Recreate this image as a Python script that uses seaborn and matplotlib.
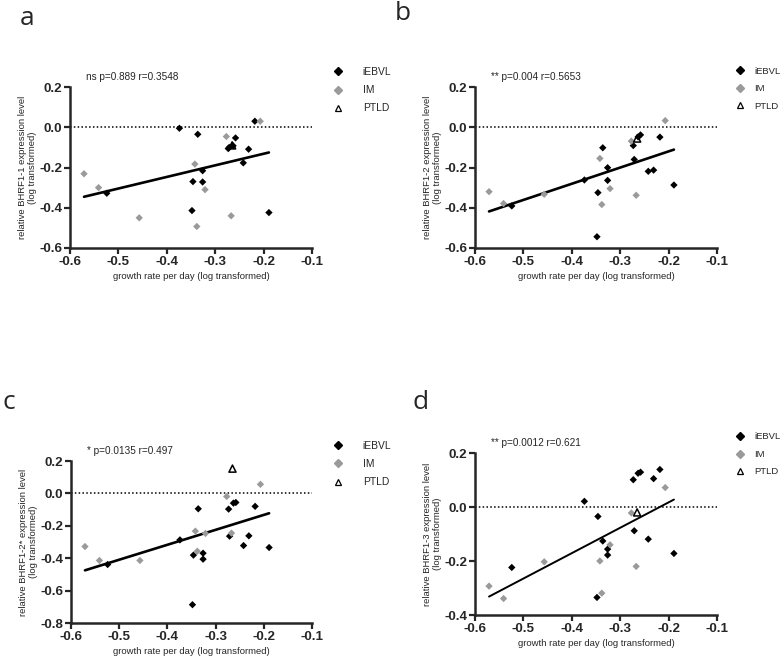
import numpy as np
import pandas as pd
import matplotlib
matplotlib.use("Agg")
import matplotlib.pyplot as plt
import seaborn as sns
from matplotlib.lines import Line2D

# ── data ───────────────────────────────────────────────────────────────────
GROUPS = ["iEBVL", "IM", "PTLD"]

x_iebvl = [-0.524, -0.374, -0.346, -0.348, -0.336, -0.326, -0.326, -0.273,
           -0.271, -0.263, -0.258, -0.242, -0.231, -0.218, -0.189]
x_im    = [-0.571, -0.541, -0.457, -0.342, -0.338, -0.321, -0.277, -0.267, -0.207]
x_ptld  = [-0.265]

# panel a – BHRF1-1
a_iebvl = [-0.328, -0.005, -0.270, -0.414, -0.035, -0.216, -0.272, -0.106,
           -0.100, -0.092, -0.053, -0.177, -0.109, 0.030, -0.424]
a_im    = [-0.231, -0.300, -0.450, -0.183, -0.493, -0.310, -0.046, -0.440, 0.030]
a_ptld  = [-0.090]

# panel b – BHRF1-2
b_iebvl = [-0.391, -0.262, -0.325, -0.544, -0.102, -0.201, -0.264, -0.091,
           -0.160, -0.048, -0.038, -0.219, -0.213, -0.049, -0.287]
b_im    = [-0.320, -0.379, -0.333, -0.155, -0.384, -0.305, -0.069, -0.338, 0.033]
b_ptld  = [-0.056]

# panel c – BHRF1-2*
c_iebvl = [-0.439, -0.287, -0.381, -0.687, -0.095, -0.369, -0.406, -0.097,
           -0.264, -0.060, -0.056, -0.322, -0.262, -0.080, -0.334]
c_im    = [-0.328, -0.414, -0.414, -0.233, -0.357, -0.247, -0.019, -0.245, 0.056]
c_ptld  = [0.153]

# panel d – BHRF1-3
d_iebvl = [-0.224, 0.021, -0.035, -0.335, -0.126, -0.156, -0.178, 0.101,
           -0.088, 0.125, 0.129, -0.119, 0.105, 0.139, -0.172]
d_im    = [-0.293, -0.339, -0.203, -0.200, -0.319, -0.140, -0.022, -0.220, 0.072]
d_ptld  = [-0.020]

letters  = ["a", "b", "c", "d"]
genes    = ["BHRF1-1", "BHRF1-2", "BHRF1-2*", "BHRF1-3"]
stats    = ["ns p=0.889 r=0.3548", "** p=0.004 r=0.5653",
            "* p=0.0135 r=0.497", "** p=0.0012 r=0.621"]
y_limits = [(-0.6, 0.2), (-0.6, 0.2), (-0.8, 0.2), (-0.4, 0.2)]
x_ticks  = [-0.6, -0.5, -0.4, -0.3, -0.2, -0.1]

panel_y = [
    (a_iebvl, a_im, a_ptld),
    (b_iebvl, b_im, b_ptld),
    (c_iebvl, c_im, c_ptld),
    (d_iebvl, d_im, d_ptld),
]

# ── style ──────────────────────────────────────────────────────────────────
sns.set_style("ticks")
plt.rcParams["font.family"] = ["Liberation Sans", "DejaVu Sans"]

GREY = "#9a9a9a"
W, H = 784, 658

fig = plt.figure(figsize=(W / 100, H / 100), dpi=100)

# axes boxes in pixels: left, top, right, bottom
boxes = [(70, 87, 312, 248), (475, 87, 717, 248),
         (71, 461, 312, 623), (475, 453, 717, 615)]
letter_pos = [(20, 25), (395, 20), (2, 409), (412, 409)]


def make_frame(xi, xm, xp, yi, ym, yp):
    return pd.concat([
        pd.DataFrame({"x": xi, "y": yi, "group": "iEBVL"}),
        pd.DataFrame({"x": xm, "y": ym, "group": "IM"}),
        pd.DataFrame({"x": xp, "y": yp, "group": "PTLD"}),
    ], ignore_index=True)


for k in range(4):
    l, t, r, b = boxes[k]
    ax = fig.add_axes([l / W, 1 - b / H, (r - l) / W, (b - t) / H])
    yi, ym, yp = panel_y[k]
    df = make_frame(x_iebvl, x_im, x_ptld, yi, ym, yp)

    ax.axhline(0, color="black", ls=(0, (1, 1.5)), lw=1.1, zorder=1)

    sns.regplot(data=df, x="x", y="y", ci=None, scatter=False, ax=ax,
                line_kws=dict(color="black", lw=1.9 if k < 3 else 1.4))

    dots = df[df["group"] != "PTLD"]
    sns.scatterplot(data=dots, x="x", y="y", hue="group",
                    palette={"iEBVL": "black", "IM": GREY},
                    marker="D", s=14, linewidth=0, legend=False, ax=ax, zorder=3)
    tri = df[df["group"] == "PTLD"]
    ax.scatter(tri["x"], tri["y"], marker="^", s=26, facecolors="none",
               edgecolors="black", linewidths=1.1, zorder=4)

    lo, hi = y_limits[k]
    ax.set_xlim(-0.6, -0.1)
    ax.set_ylim(lo, hi)
    y_ticks = np.round(np.arange(lo, hi + 0.01, 0.2), 1) + 0.0
    ax.set_xticks(x_ticks)
    ax.set_yticks(y_ticks)
    ax.set_xticklabels([f"{v:.1f}" for v in x_ticks])
    ax.set_yticklabels([f"{abs(v):.1f}" if abs(v) < 1e-9 else f"{v:.1f}" for v in y_ticks])
    for lab in ax.get_xticklabels() + ax.get_yticklabels():
        lab.set_fontweight("bold")
        lab.set_fontsize(9.6)
    ax.tick_params(length=4, width=1.6, pad=1.5)
    sns.despine(ax=ax)
    for side in ("left", "bottom"):
        ax.spines[side].set_linewidth(1.8)

    ax.set_xlabel("growth rate per day (log transformed)", fontsize=6.8, labelpad=3)
    ax.set_ylabel(f"relative {genes[k]} expression level\n(log transformed)",
                  fontsize=6.8, labelpad=2, linespacing=1.05)

    ax.text(0.065, 1.06, stats[k], transform=ax.transAxes, fontsize=7.2,
            ha="left", va="center")

    handles = [
        Line2D([], [], ls="", marker="D", ms=3.6, mfc="black", mec="black"),
        Line2D([], [], ls="", marker="D", ms=3.6, mfc=GREY, mec=GREY),
        Line2D([], [], ls="", marker="^", ms=4.2, mfc="none", mec="black", mew=0.9),
    ]
    right_col = k % 2 == 1
    ax.legend(handles, GROUPS, loc="upper left",
              bbox_to_anchor=(1.06 if right_col else 1.07, 1.15),
              frameon=False, fontsize=6.8 if right_col else 7.4,
              handlelength=1.0, handletextpad=1.0 if right_col else 1.9,
              labelspacing=0.9 if right_col else 0.8, borderaxespad=0)

    lx, ly = letter_pos[k]
    fig.text(lx / W, 1 - ly / H, letters[k], fontsize=19, ha="left",
             va="baseline", family=["Open Sans", "DejaVu Sans"])

fig.savefig("out.png", dpi=100)
